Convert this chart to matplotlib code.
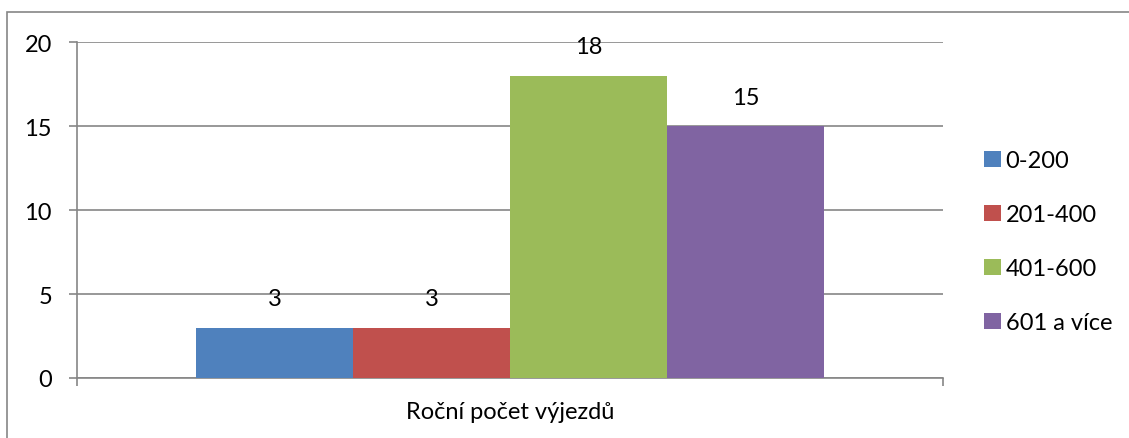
import matplotlib
matplotlib.use("Agg")
import matplotlib.pyplot as plt
import numpy as np
from matplotlib.patches import Rectangle

categories = ["0-200", "201-400", "401-600", "601 a více"]
values = [3, 3, 18, 15]
colors = ["#4F81BD", "#C0504D", "#9BBB59", "#8064A2"]
yticks = [0, 5, 10, 15, 20]
xlabel = "Roční počet výjezdů"

plt.rcParams["font.family"] = ["Lato", "DejaVu Sans"]
FS = 17
GRAY = "#868686"

fig = plt.figure(figsize=(11.29, 4.39), dpi=100)
W, H = 1129, 439
# plot area in pixels: x 77..943, y 43..379
ax = fig.add_axes([77 / W, 1 - 379 / H, (943 - 77) / W, (379 - 43) / H])

# outer chart border
fig.patches.append(Rectangle((7 / W, -0.05), 1.2, 1 - 13 / H + 0.05, transform=fig.transFigure,
                             fill=False, edgecolor=GRAY, lw=1.2))

w = 157 / 866
x = (np.arange(len(values)) - 1.5) * w
bars = ax.bar(x, values, width=w, color=colors, label=categories, zorder=3)
for xi, v in zip(x, values):
    ax.text(xi, v + 1.1, str(v), ha="center", va="bottom", fontsize=FS)

ax.set_xlim(-0.5, 0.5)
ax.set_ylim(0, 20)
ax.set_yticks(yticks)
ax.yaxis.grid(True, color=GRAY, lw=1.2, zorder=0)
ax.set_xticks([-0.5, 0.5])
ax.set_xticklabels([])
ax.tick_params(axis="x", direction="out", length=6, color=GRAY, width=1.2)
ax.tick_params(axis="y", direction="out", length=6, color=GRAY, width=1.2,
               labelsize=FS, pad=12)
for s in ["top", "right"]:
    ax.spines[s].set_visible(False)
for s in ["left", "bottom"]:
    ax.spines[s].set_color(GRAY)
    ax.spines[s].set_linewidth(1.2)
ax.text(0.5, -0.1, xlabel, transform=ax.transAxes, ha="center", va="center", fontsize=FS)

fig.legend(handles=bars, labels=categories, loc="upper left",
           bbox_to_anchor=(963 / W, 1 - 130 / H), frameon=False, fontsize=FS,
           handlelength=0.7, handleheight=0.7, handletextpad=0.2, labelspacing=1.4)

fig.savefig("out.png", dpi=100)
